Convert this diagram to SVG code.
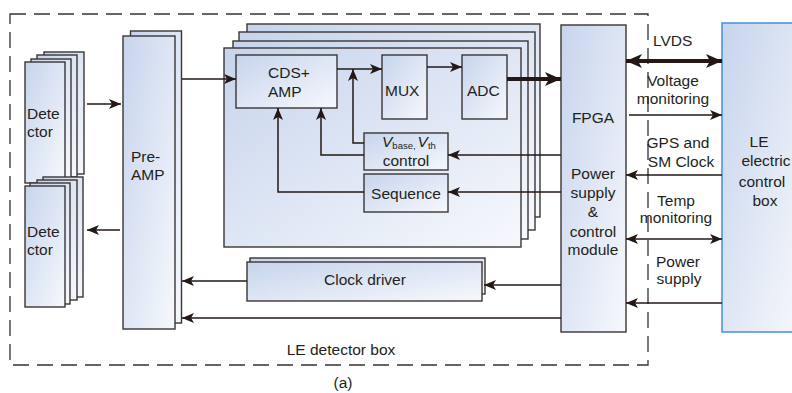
<svg xmlns="http://www.w3.org/2000/svg" width="792" height="393" viewBox="0 0 792 393">
<defs>
<linearGradient id="g" x1="0" y1="0" x2="1" y2="1">
<stop offset="0" stop-color="#c6d4ec"/>
<stop offset="0.6" stop-color="#e3eaf6"/>
<stop offset="1" stop-color="#f6f8fc"/>
</linearGradient>
<marker id="ah" markerUnits="userSpaceOnUse" viewBox="0 0 12 10" markerWidth="12" markerHeight="10" refX="12" refY="5" orient="auto-start-reverse">
<path d="M0,0 L12,5 L0,10 L3,5 z" fill="#231815"/>
</marker>
<marker id="ahT" markerUnits="userSpaceOnUse" viewBox="0 0 16 14" markerWidth="16" markerHeight="14" refX="16" refY="7" orient="auto-start-reverse">
<path d="M0,0 L16,7 L0,14 L4,7 z" fill="#231815"/>
</marker>
</defs>
<style>
.n{fill:url(#g);stroke:#3a3535;stroke-width:1.4}
.le{fill:url(#g);stroke:#4a8fd6;stroke-width:1.5}
.t{font-family:"Liberation Sans",Arial,sans-serif;font-size:15.5px;fill:#231f20}
.c{text-anchor:middle}
.w{fill:none;stroke:#231815;stroke-width:1.5}
.a{marker-end:url(#ah)}
.k{fill:none;stroke:#231815;stroke-width:4}
</style>
<rect width="792" height="393" fill="#fff"/>

<g id="detector-box">
<rect x="10" y="14" width="638" height="351" fill="none" stroke="#333" stroke-width="1.3" stroke-dasharray="16 8"/>
<text class="t c" x="341" y="355">LE detector box</text>
</g>

<g id="detector-top">
<rect class="n" x="44" y="52" width="40" height="122"/>
<rect class="n" x="37" y="55" width="40" height="122"/>
<rect class="n" x="31" y="59" width="40" height="122"/>
<rect class="n" x="25" y="62" width="40" height="121"/>
<text class="t" x="27" y="119">Dete</text>
<text class="t" x="27" y="137">ctor</text>
</g>

<g id="detector-bottom">
<rect class="n" x="43" y="177" width="40" height="120"/>
<rect class="n" x="37" y="180" width="40" height="120"/>
<rect class="n" x="30" y="183" width="40" height="121"/>
<rect class="n" x="25" y="186" width="40" height="121"/>
<text class="t" x="27" y="237">Dete</text>
<text class="t" x="27" y="255">ctor</text>
</g>

<g id="pre-amp">
<rect class="n" x="130.5" y="31" width="51" height="292"/>
<rect class="n" x="123" y="36" width="52" height="293"/>
<text class="t" x="131" y="162">Pre-</text>
<text class="t" x="131" y="180">AMP</text>
</g>

<g id="boards">
<rect class="n" x="247" y="24" width="293" height="193"/>
<rect class="n" x="239" y="32" width="296" height="198"/>
<rect class="n" x="233" y="41" width="295" height="198"/>
<rect class="n" x="224" y="48" width="297" height="199"/>
</g>

<g id="cds-amp">
<rect class="n" x="236" y="55" width="101" height="53"/>
<text class="t" x="268" y="78">CDS+</text>
<text class="t" x="268" y="97">AMP</text>
</g>

<g id="mux">
<rect class="n" x="382" y="55" width="45" height="64"/>
<text class="t" x="385" y="96">MUX</text>
</g>

<g id="adc">
<rect class="n" x="462" y="55" width="45" height="64"/>
<text class="t" x="467" y="96">ADC</text>
</g>

<g id="vbase-control">
<rect class="n" x="364" y="133" width="84" height="37"/>
<text class="t" x="382" y="147"><tspan font-style="italic">V</tspan><tspan font-size="9.5" dy="2">base,</tspan><tspan font-style="italic" dy="-2" dx="2">V</tspan><tspan font-size="9.5" dy="2">th</tspan></text>
<text class="t c" x="406" y="166">control</text>
</g>

<g id="sequence">
<rect class="n" x="364" y="174" width="84" height="38"/>
<text class="t c" x="406" y="199">Sequence</text>
</g>

<g id="fpga">
<rect class="n" x="561" y="25" width="65" height="307"/>
<text class="t c" x="593" y="123">FPGA</text>
<text class="t c" x="593" y="179">Power</text>
<text class="t c" x="593" y="198">supply</text>
<text class="t c" x="593" y="217">&amp;</text>
<text class="t c" x="593" y="237">control</text>
<text class="t c" x="593" y="255">module</text>
</g>

<g id="le-control-box">
<rect class="le" x="722" y="23" width="80" height="309"/>
<text class="t c" x="759" y="147">LE</text>
<text class="t c" x="766" y="166">electric</text>
<text class="t c" x="762" y="187">control</text>
<text class="t c" x="765" y="206">box</text>
</g>

<g id="clock-driver">
<rect class="n" x="250" y="258" width="235" height="36"/>
<rect class="n" x="247" y="262" width="235" height="39"/>
<text class="t c" x="365" y="285">Clock driver</text>
</g>

<g id="connectors">
<path class="w a" d="M87,104 L121,104"/>
<path class="w a" d="M120,230 L87,230"/>
<path class="w a" d="M182,79 L236,79"/>
<path class="w a" d="M337,69 L382,69"/>
<path class="w a" d="M427,67 L462,67"/>
<path class="k" d="M507,79 L561,79" marker-end="url(#ahT)"/>
<path class="w a" d="M364,143 L353,143 L353,69"/>
<path class="w a" d="M364,155 L321,155 L321,108"/>
<path class="w a" d="M364,192 L278,192 L278,108"/>
<path class="w a" d="M561,155 L448,155"/>
<path class="w a" d="M561,192 L448,192"/>
<path class="w a" d="M561,285 L484,285"/>
<path class="w a" d="M247,281 L182,281"/>
<path class="w a" d="M561,318 L182,318"/>
<path class="k" d="M626,61 L722,61" marker-start="url(#ahT)" marker-end="url(#ahT)"/>
<path class="w a" d="M629,115 L722,115"/>
<path class="w a" d="M722,175 L626,175"/>
<path class="w" d="M626,239 L722,239" marker-start="url(#ah)" marker-end="url(#ah)"/>
<path class="w a" d="M722,303 L626,303"/>
</g>

<g id="labels">
<text class="t" x="653" y="46">LVDS</text>
<text class="t c" x="673" y="86">Voltage</text>
<text class="t c" x="673" y="104">monitoring</text>
<text class="t c" x="678" y="148">GPS and</text>
<text class="t c" x="681" y="167">SM Clock</text>
<text class="t c" x="676" y="206">Temp</text>
<text class="t c" x="676" y="223">monitoring</text>
<text class="t c" x="678" y="267">Power</text>
<text class="t c" x="679" y="284">supply</text>
<text class="t c" x="343" y="388">(a)</text>
</g>
</svg>
